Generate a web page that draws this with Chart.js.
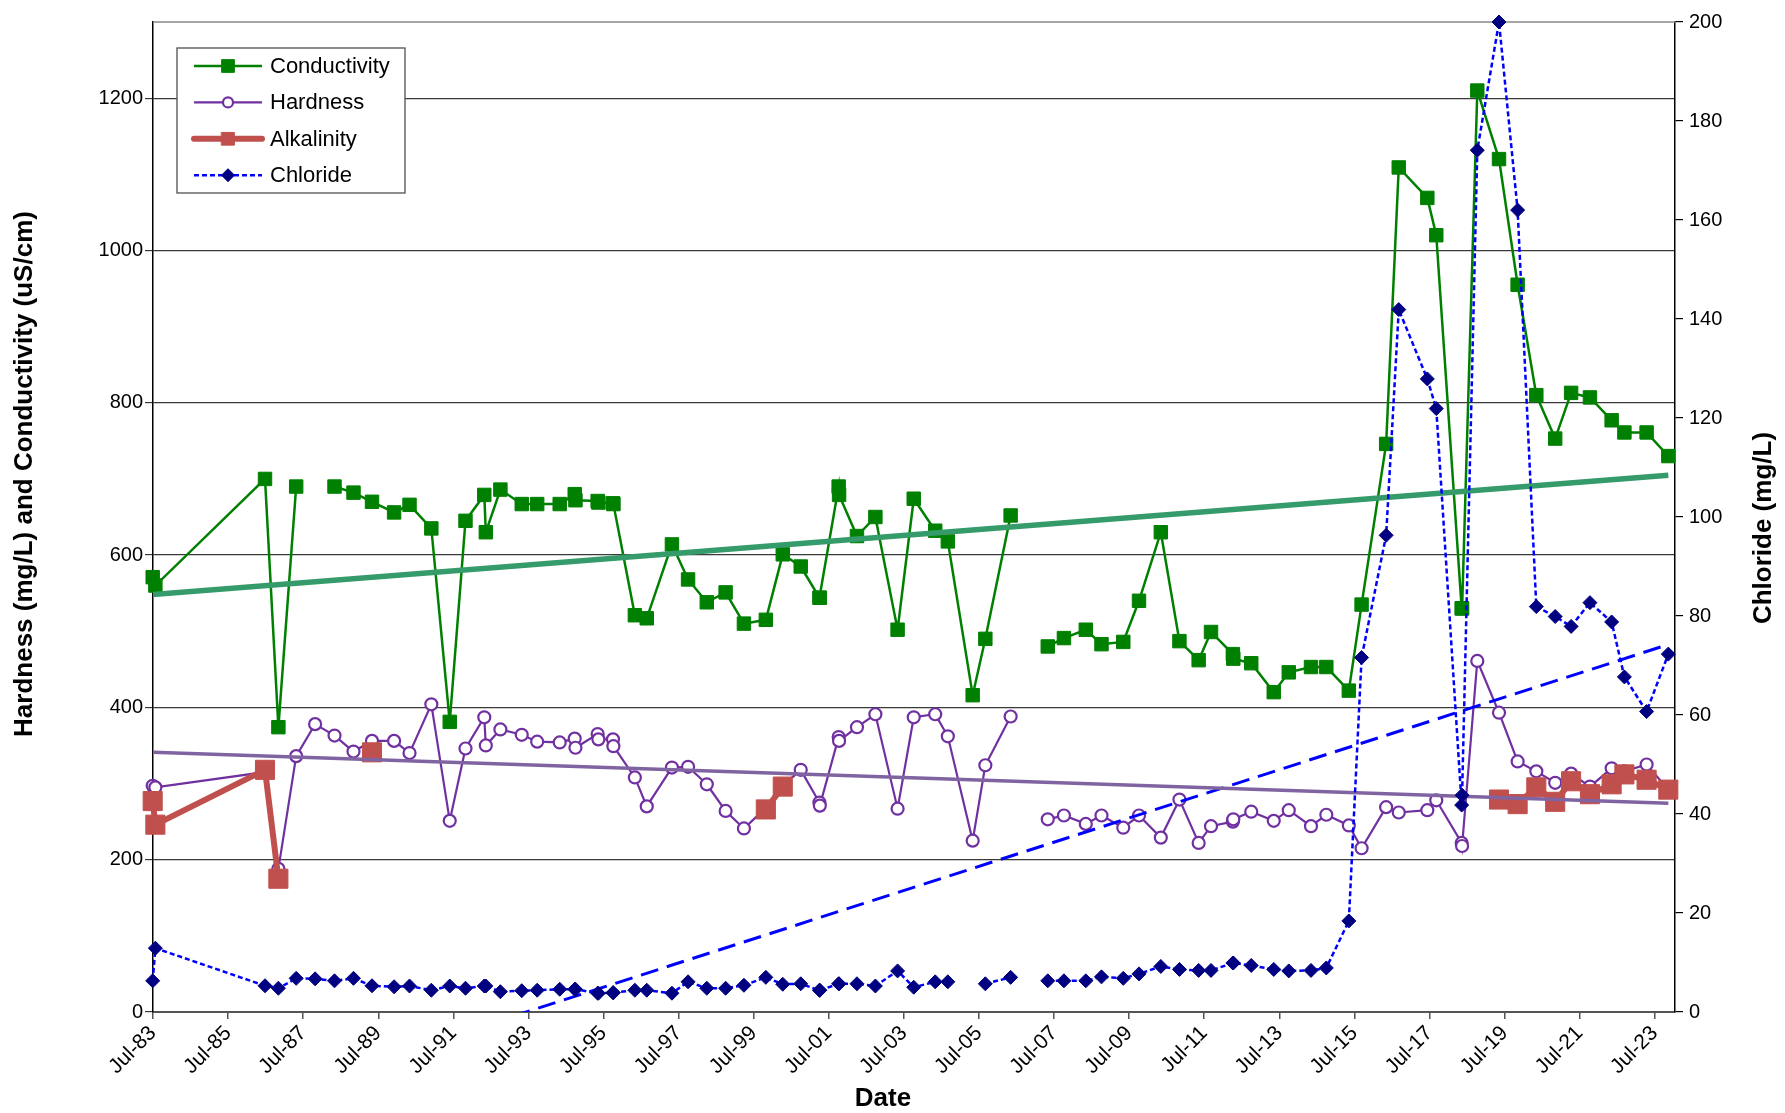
<!DOCTYPE html>
<html>
<head>
<meta charset="utf-8">
<title>Hardness, Conductivity, Alkalinity and Chloride</title>
<script src="https://cdn.jsdelivr.net/npm/chart.js@4.4.1/dist/chart.umd.min.js"></script>
<style>
  html, body { margin: 0; padding: 0; background: #fff; }
  #wrap { width: 1785px; height: 1113px; }
</style>
</head>
<body>
<div id="wrap"><canvas id="chart" width="1785" height="1113"></canvas></div>
<script>
// sampling dates, one per row; null = not measured
const sampleDates = [
  '1983-06-28', '1983-07-24', '1986-06-25', '1986-11-02', '1987-04-24', '1987-10-25',
  '1988-05-01', '1988-11-02', '1989-05-01', '1989-12-02', '1990-05-01', '1990-11-29',
  '1991-05-27', '1991-10-27', '1992-04-27', '1992-05-12', '1992-10-01', '1993-04-27',
  '1993-09-24', '1994-05-01', '1994-09-24', '1994-10-01', '1995-05-05', '1995-05-12',
  '1995-10-01', '1995-10-05', '1996-05-01', '1996-08-25', '1997-04-27', '1997-10-01',
  '1998-04-01', '1998-10-01', '1999-03-28', '1999-10-27', '2000-04-09', '2000-10-01',
  '2001-04-01', '2001-04-05', '2001-10-05', '2001-10-09', '2002-04-01', '2002-09-27',
  '2003-05-01', '2003-10-05', '2004-05-01', '2004-09-01', '2005-05-01', '2005-09-01',
  '2006-05-05', '2006-10-01', '2007-05-01', '2007-10-05', '2008-05-05', '2008-10-05',
  '2009-05-05', '2009-10-05', '2010-05-05', '2010-11-02', '2011-05-08', '2011-09-05',
  '2012-04-05', '2012-04-09', '2012-10-01', '2013-05-08', '2013-10-01', '2014-05-05',
  '2014-10-01', '2015-05-08', '2015-09-09', '2016-05-05', '2016-09-05', '2017-06-10',
  '2017-09-05', '2018-05-10', '2018-05-14', '2018-10-09', '2019-05-08', '2019-11-05',
  '2020-05-05', '2020-11-05', '2021-04-09', '2021-10-09', '2022-05-08', '2022-09-09',
  '2023-04-13', '2023-11-10'
];
const conductivity = [
  571, 560, 700, 374, 690, null,
  690, 682, 670, 656, 666, 635,
  381, 645, 679, 630, 686, 667,
  667, 667, 680, 672, 671, 669,
  668, 667, 521, 517, 614, 568,
  538, 551, 510, 515, 601, 585,
  544, 544, 690, 679, 625, 650,
  502, 674, 632, 618, 416, 490,
  652, null, 480, 491, 502, 483,
  486, 540, 630, 487, 462, 499,
  470, 464, 458, 420, 446, 453,
  453, 422, 535, 746, 1109, 1069,
  1020, 530, 530, 1210, 1120, 955,
  810, 753, 813, 807, 777, 761,
  761, 730
];
const hardness = [
  297, 295, 315, 188, 336, 378,
  363, 342, 356, 356, 340, 404,
  251, 346, 387, 350, 371, 364,
  355, 354, 359, 347, 365, 358,
  358, 349, 308, 270, 321, 322,
  299, 264, 241, 268, 297, 318,
  275, 271, 361, 356, 374, 391,
  267, 387, 391, 362, 225, 324,
  388, null, 253, 258, 247, 258,
  242, 258, 229, 279, 222, 244,
  250, 253, 263, 251, 265, 244,
  259, 245, 215, 269, 262, 265,
  278, 222, 218, 461, 393, 329,
  316, 301, 313, 296, 320, 316,
  325, 292
];
const alkalinity = [
  277, 246, 318, 175, null, null,
  null, null, 341, null, null, null,
  null, null, null, null, null, null,
  null, null, null, null, null, null,
  null, null, null, null, null, null,
  null, null, null, 266, 296, null,
  null, null, null, null, null, null,
  null, null, null, null, null, null,
  null, null, null, null, null, null,
  null, null, null, null, null, null,
  null, null, null, null, null, null,
  null, null, null, null, null, null,
  null, null, null, null, 279, 273,
  295, 276, 303, 286, 299, 312,
  305, 292
];
const chloride = [
  6.3, 12.9, 5.3, 4.8, 6.8, 6.7,
  6.3, 6.8, 5.3, 5.1, 5.25, 4.4,
  5.25, 4.8, 5.25, 5.25, 4.1, 4.3,
  4.4, 4.6, 4.6, 4.6, 3.8, 3.8,
  3.9, 3.9, 4.4, 4.4, 3.8, 6.1,
  4.8, 4.8, 5.4, 7.0, 5.6, 5.7,
  4.4, 4.4, 5.7, 5.7, 5.7, 5.25,
  8.3, 5.0, 6.1, 6.1, null, 5.7,
  7.0, null, 6.3, 6.3, 6.3, 7.1,
  6.8, 7.7, 9.2, 8.6, 8.4, 8.4,
  9.9, 9.9, 9.4, 8.6, 8.3, 8.4,
  8.9, 18.4, 71.6, 96.3, 141.9, 127.9,
  121.9, 41.8, 43.8, 174.1, 200, 162,
  81.9, 79.9, 77.9, 82.7, 78.8, 67.7,
  60.7, 72.3
];
const tickYears = [1983, 1985, 1987, 1989, 1991, 1993, 1995, 1997, 1999, 2001, 2003,
  2005, 2007, 2009, 2011, 2013, 2015, 2017, 2019, 2021, 2023];
const leftTicks = [0, 200, 400, 600, 800, 1000, 1200];
const rightTicks = [0, 20, 40, 60, 80, 100, 120, 140, 160, 180, 200];

const FONT = '"Liberation Sans", Arial, Helvetica, sans-serif';
Chart.defaults.font.family = FONT;
Chart.defaults.color = '#000';

function toYear(s) {
  const [y, m, d] = s.split('-').map(Number);
  const start = Date.UTC(y, 0, 1);
  return y + (Date.UTC(y, m - 1, d) - start) / (Date.UTC(y + 1, 0, 1) - start);
}
const xs = sampleDates.map(toYear);
const pts = vals => vals.map((v, i) => ({ x: xs[i], y: v }));

// least squares line over the measured points, like an Excel linear trendline
function trend(vals) {
  const p = pts(vals).filter(q => q.y !== null);
  const n = p.length;
  const mx = p.reduce((s, q) => s + q.x, 0) / n;
  const my = p.reduce((s, q) => s + q.y, 0) / n;
  let sxy = 0, sxx = 0;
  p.forEach(q => { sxy += (q.x - mx) * (q.y - my); sxx += (q.x - mx) ** 2; });
  const b = sxy / sxx, a = my - b * mx;
  const x0 = p[0].x, x1 = p[n - 1].x;
  return [{ x: x0, y: a + b * x0 }, { x: x1, y: a + b * x1 }];
}

const overlay = {
  id: 'overlay',
  beforeDatasetsDraw(chart) {
    const { ctx, chartArea: a } = chart;
    ctx.save();
    ctx.strokeStyle = '#8a8a8a';
    ctx.lineWidth = 1.5;
    ctx.beginPath();
    ctx.moveTo(a.left, a.top);
    ctx.lineTo(a.right, a.top);
    ctx.stroke();
    ctx.restore();
  },
  afterDraw(chart) {
    const ctx = chart.ctx;
    ctx.save();
    // axis titles
    ctx.fillStyle = '#000';
    ctx.font = 'bold 26px ' + FONT;
    ctx.textAlign = 'center';
    ctx.textBaseline = 'middle';
    ctx.fillText('Date', 883, 1099);
    ctx.save();
    ctx.translate(25, 474);
    ctx.rotate(-Math.PI / 2);
    ctx.fillText('Hardness (mg/L) and Conductivity (uS/cm)', 0, 0);
    ctx.restore();
    ctx.save();
    ctx.translate(1764, 528);
    ctx.rotate(-Math.PI / 2);
    ctx.fillText('Chloride (mg/L)', 0, 0);
    ctx.restore();

    // legend box
    ctx.fillStyle = '#fff';
    ctx.fillRect(177, 48, 228, 145);
    ctx.strokeStyle = '#505050';
    ctx.lineWidth = 1.3;
    ctx.strokeRect(177, 48, 228, 145);
    const sizes = [9, 5, 9, 6.5];
    ctx.font = '22px ' + FONT;
    ctx.textAlign = 'left';
    for (let i = 0; i < 4; i++) {
      const ds = chart.data.datasets[i];
      const y = 66 + i * 36.4;
      ctx.save();
      ctx.strokeStyle = ds.borderColor;
      ctx.lineWidth = ds.borderWidth;
      ctx.lineCap = ds.borderCapStyle || 'butt';
      ctx.setLineDash(ds.borderDash || []);
      ctx.beginPath();
      ctx.moveTo(194, y);
      ctx.lineTo(262, y);
      ctx.stroke();
      ctx.setLineDash([]);
      ctx.fillStyle = ds.pointBackgroundColor;
      ctx.strokeStyle = ds.pointBorderColor;
      ctx.lineWidth = ds.pointBorderWidth;
      Chart.helpers.drawPoint(ctx, {
        pointStyle: ds.pointStyle, radius: sizes[i], rotation: 0, borderWidth: ds.pointBorderWidth
      }, 228, y);
      ctx.restore();
      ctx.fillStyle = '#000';
      ctx.fillText(ds.label, 270, y + 1);
    }
    ctx.restore();
  }
};

new Chart(document.getElementById('chart'), {
  type: 'line',
  data: {
    datasets: [
      {
        label: 'Conductivity', data: pts(conductivity), yAxisID: 'y',
        borderColor: '#008000', borderWidth: 2.5,
        pointStyle: 'rect', pointRadius: 9.5, pointBorderWidth: 1,
        pointBackgroundColor: '#008000', pointBorderColor: '#008000',
        order: 5, clip: false
      },
      {
        label: 'Hardness', data: pts(hardness), yAxisID: 'y',
        borderColor: '#7030A0', borderWidth: 2.2,
        pointStyle: 'circle', pointRadius: 6, pointBorderWidth: 2.2,
        pointBackgroundColor: '#ffffff', pointBorderColor: '#7030A0',
        order: 4, clip: false
      },
      {
        label: 'Alkalinity', data: pts(alkalinity), yAxisID: 'y',
        borderColor: '#C0504D', borderWidth: 6, borderCapStyle: 'round', borderJoinStyle: 'round',
        pointStyle: 'rect', pointRadius: 13.5, pointBorderWidth: 1,
        pointBackgroundColor: '#C0504D', pointBorderColor: '#C0504D',
        order: 3, clip: false
      },
      {
        label: 'Chloride', data: pts(chloride), yAxisID: 'y2',
        borderColor: '#0000FF', borderWidth: 2.5, borderDash: [5, 3],
        pointStyle: 'rectRot', pointRadius: 7, pointBorderWidth: 1,
        pointBackgroundColor: '#000080', pointBorderColor: '#000080',
        order: 1, clip: false
      },
      {
        label: 'Conductivity trend', data: trend(conductivity), yAxisID: 'y',
        borderColor: '#359B6B', borderWidth: 5.5, pointRadius: 0, order: 2
      },
      {
        label: 'Hardness trend', data: trend(hardness), yAxisID: 'y',
        borderColor: '#8064A2', borderWidth: 3.5, pointRadius: 0, order: 2
      },
      {
        label: 'Chloride trend', data: trend(chloride), yAxisID: 'y2',
        borderColor: '#0000FF', borderWidth: 3, borderDash: [18, 9], pointRadius: 0, order: 2
      }
    ]
  },
  options: {
    responsive: false,
    animation: false,
    spanGaps: false,
    layout: { padding: { top: 22, left: 0, right: 0, bottom: 0 } },
    plugins: { legend: { display: false }, tooltip: { enabled: false } },
    elements: { line: { tension: 0 } },
    scales: {
      x: {
        type: 'linear',
        min: toYear('1983-07-01'),
        max: toYear('2024-01-14'),
        afterBuildTicks: s => { s.ticks = tickYears.map(y => ({ value: toYear(y + '-07-01') })); },
        afterFit: s => { s.height = 101; },
        ticks: {
          autoSkip: false, minRotation: 45, maxRotation: 45, padding: 2,
          font: { size: 21 },
          callback: (v, i) => 'Jul-' + String(tickYears[i]).slice(2)
        },
        grid: { drawOnChartArea: false, drawTicks: true, tickLength: 7, color: '#555', lineWidth: 1.5 },
        border: { color: '#555', width: 2 }
      },
      y: {
        position: 'left', min: 0, max: 1300,
        afterBuildTicks: s => { s.ticks = leftTicks.map(v => ({ value: v })); },
        afterFit: s => { s.width = 153; },
        ticks: { font: { size: 20 }, padding: 2, callback: v => String(v) },
        grid: { color: '#3a3a3a', lineWidth: 1.2, tickLength: 8 },
        border: { color: '#000', width: 1.5 }
      },
      y2: {
        position: 'right', min: 0, max: 200,
        afterBuildTicks: s => { s.ticks = rightTicks.map(v => ({ value: v })); },
        afterFit: s => { s.width = 110; },
        ticks: { font: { size: 20 }, padding: 6, callback: v => String(v) },
        grid: { drawOnChartArea: false, tickLength: 8, color: '#000', lineWidth: 1.2 },
        border: { color: '#000', width: 1.5 }
      }
    }
  },
  plugins: [overlay]
});
</script>
</body>
</html>
